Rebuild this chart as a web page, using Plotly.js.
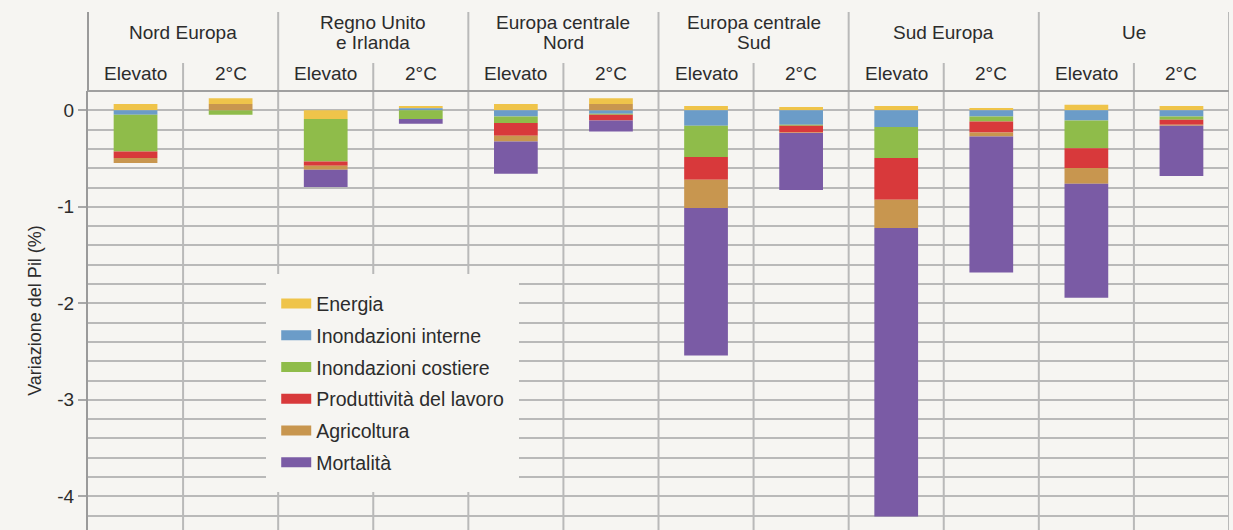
<!DOCTYPE html>
<html><head><meta charset="utf-8">
<script src="https://cdn.plot.ly/plotly-3.0.1.min.js"></script>
<style>html,body{margin:0;padding:0;background:#f6f5f2;} #chart{width:1233px;height:530px;}</style>
</head><body><div id="chart"></div>
<script>
// ---- data ----
const regionLines = [['Nord Europa'], ['Regno Unito', 'e Irlanda'], ['Europa centrale', 'Nord'], ['Europa centrale', 'Sud'], ['Sud Europa'], ['Ue']];
const scenarios = ['Elevato', '2°C'];
const seriesNames = ['Energia', 'Inondazioni interne', 'Inondazioni costiere', 'Produttività del lavoro', 'Agricoltura', 'Mortalità'];
const seriesColors = ['#efc44a', '#6b9cc8', '#8fbc4a', '#d8393b', '#c8964f', '#7a5ba5'];
// order: NE-Elev, NE-2C, RU-Elev, RU-2C, ECN-Elev, ECN-2C, ECS-Elev, ECS-2C, SE-Elev, SE-2C, Ue-Elev, Ue-2C
const energia       = [0.065, 0.060, -0.090, 0.025, 0.065, 0.060, 0.045, 0.033, 0.045, 0.023, 0.057, 0.045];
const inondInterne  = [-0.047, 0, 0, 0.020, -0.064, -0.035, -0.161, -0.150, -0.174, -0.064, -0.106, -0.064];
const inondCostiere = [-0.380, -0.047, -0.440, -0.090, -0.068, -0.010, -0.324, -0.010, -0.321, -0.052, -0.286, -0.034];
const produttivita  = [-0.068, 0, -0.045, 0, -0.132, -0.060, -0.235, -0.070, -0.432, -0.114, -0.207, -0.052];
const agricoltura   = [-0.052, 0.066, -0.041, 0, -0.059, 0.065, -0.293, -0.005, -0.293, -0.041, -0.163, -0.010];
const mortalita     = [0, 0, -0.180, -0.050, -0.335, -0.114, -1.527, -0.590, -2.989, -1.409, -1.181, -0.520];
const yTickVals = [0, -1, -2, -3, -4];
const yTickText = ['0', '-1', '-2', '-3', '-4'];
const yTitle = 'Variazione del Pil (%)';

// ---- build ----
const FONT = '"Liberation Sans", Arial, sans-serif';
const TXT = '#2c2c2c';
const BG = '#f6f5f2';
const seriesValues = [energia, inondInterne, inondCostiere, produttivita, agricoltura, mortalita];
const cats = [];
regionLines.forEach(r => scenarios.forEach(s => cats.push(r.join(' ') + ' – ' + s)));
const n = cats.length;

// stacking: negatives from zero downward in series order, positives outward in reverse order
const bases = seriesValues.map(() => new Array(n).fill(0));
const negCum = new Array(n).fill(0), posCum = new Array(n).fill(0);
seriesValues.forEach((vals, k) => vals.forEach((v, i) => { if (v < 0) { bases[k][i] = negCum[i]; negCum[i] += v; } }));
for (let k = seriesValues.length - 1; k >= 0; k--) {
  seriesValues[k].forEach((v, i) => { if (v >= 0) { bases[k][i] = posCum[i]; posCum[i] += v; } });
}

const traces = [];
seriesValues.forEach((vals, k) => {
  traces.push({
    type: 'bar', x: cats, y: vals, base: bases[k], width: 0.46,
    marker: {color: seriesColors[k], line: {width: 0}},
    name: seriesNames[k], legendgroup: seriesNames[k], showlegend: false,
    hoverinfo: 'name+y'
  });
});
seriesNames.forEach((nm, k) => {
  traces.push({
    type: 'scatter', mode: 'lines', x: [null], y: [null],
    line: {color: seriesColors[k], width: 12},
    name: nm, legendgroup: nm, showlegend: true, hoverinfo: 'skip'
  });
});

const shapes = [];
const GRID = '#b9b9b9';
for (let k = 1; k <= n; k++) {
  const isRegion = (k % 2 === 0);
  shapes.push({type: 'line', xref: 'x', yref: 'paper', x0: k - 0.5, x1: k - 0.5,
    y0: 0, y1: isRegion ? 1.18 : 1.064, line: {color: GRID, width: 2}, layer: 'below'});
}
shapes.push({type: 'line', xref: 'paper', yref: 'paper', x0: 0, x1: 0, y0: 1, y1: 1.18, line: {color: '#9a9a9a', width: 2}});
shapes.push({type: 'line', xref: 'paper', yref: 'paper', x0: 0, x1: 1, y0: 1, y1: 1, line: {color: '#a0a0a0', width: 2}});

const annotations = [];
const pxToPaper = px => (530 - px) / 439;
regionLines.forEach((lines, r) => {
  const cx = 2 * r + 0.5;
  const ys = lines.length === 1 ? [32] : [22, 42];
  lines.forEach((t, j) => annotations.push({
    text: t, xref: 'x', yref: 'paper', x: cx, y: pxToPaper(ys[j]), showarrow: false,
    xanchor: 'center', yanchor: 'middle', font: {family: FONT, size: 19, color: TXT}
  }));
  scenarios.forEach((s, j) => annotations.push({
    text: s, xref: 'x', yref: 'paper', x: 2 * r + j, y: pxToPaper(73), showarrow: false,
    xanchor: 'center', yanchor: 'middle', font: {family: FONT, size: 19, color: TXT}
  }));
});

const layout = {
  width: 1233, height: 530,
  margin: {l: 88, r: 4, t: 91, b: 0, pad: 0},
  paper_bgcolor: BG, plot_bgcolor: BG,
  barmode: 'overlay',
  font: {family: FONT, color: TXT},
  xaxis: {type: 'category', range: [-0.5, n - 0.5], showticklabels: false, ticks: '',
    showgrid: false, zeroline: false, showline: false, fixedrange: true},
  yaxis: {range: [-4.349, 0.2], tickvals: yTickVals, ticktext: yTickText,
    ticks: 'outside', ticklen: 8, tickwidth: 2, tickcolor: '#a8a8a8',
    tickfont: {family: FONT, size: 19, color: TXT},
    showgrid: true, gridcolor: GRID, gridwidth: 2,
    minor: {dtick: 0.2, tick0: 0, showgrid: true, gridcolor: GRID, gridwidth: 2, ticks: ''},
    zeroline: false, showline: true, linecolor: '#9a9a9a', linewidth: 2,
    title: {text: yTitle, font: {family: FONT, size: 18, color: TXT}, standoff: 11},
    fixedrange: true},
  legend: {x: 0.1562, y: 0.5826, xanchor: 'left', yanchor: 'top',
    bgcolor: BG, bordercolor: BG, borderwidth: 10, font: {family: FONT, size: 19.5, color: TXT},
    tracegroupgap: 3.4, itemwidth: 30},
  shapes: shapes, annotations: annotations
};
Plotly.newPlot('chart', traces, layout, {displayModeBar: false, staticPlot: true});
</script></body></html>
